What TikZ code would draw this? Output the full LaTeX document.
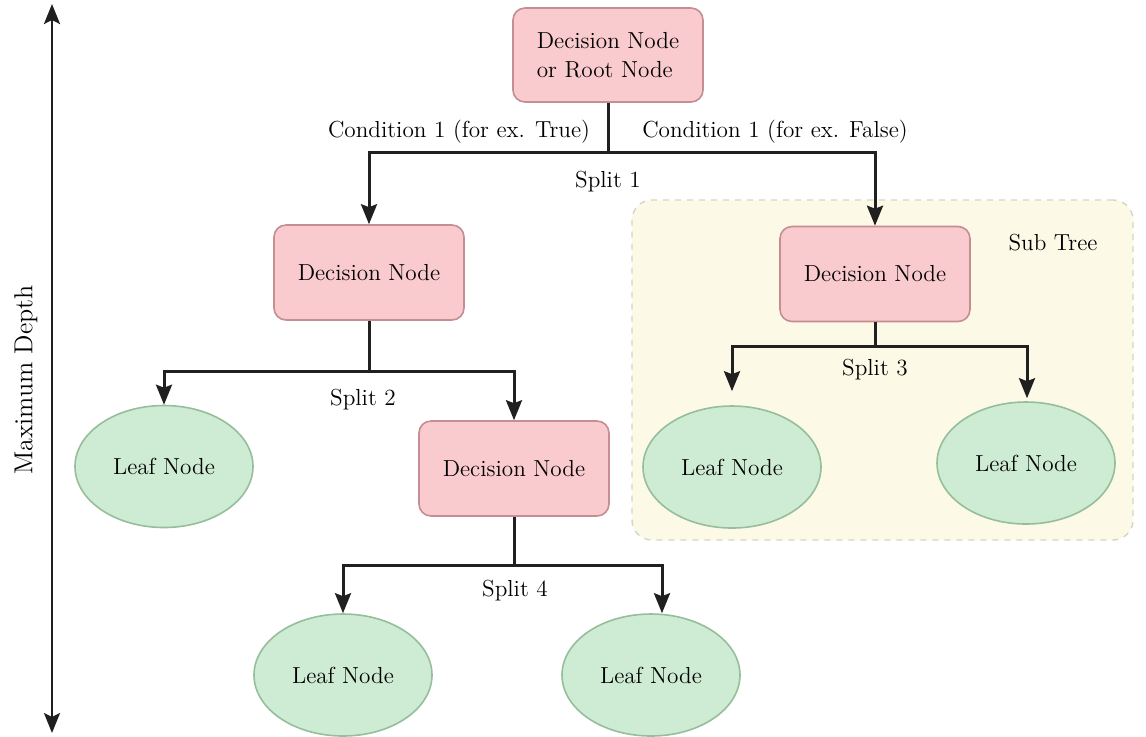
\documentclass[tikz,border=0pt]{standalone}
\usetikzlibrary{arrows.meta,shapes.geometric}
\definecolor{decfill}{RGB}{249,202,206}
\definecolor{decdraw}{RGB}{196,142,146}
\definecolor{leaffill}{RGB}{206,235,212}
\definecolor{leafdraw}{RGB}{150,190,155}
\definecolor{subfill}{RGB}{252,250,230}
\definecolor{subdraw}{RGB}{214,212,196}
\definecolor{linec}{RGB}{32,32,32}
\tikzset{
  txt/.style={font=\fontsize{11.6}{14.5}\selectfont, text=black},
  decnode/.style={txt, rectangle, rounded corners=6pt, draw=decdraw, fill=decfill, line width=0.8pt, minimum width=95pt, minimum height=47.5pt, align=center},
  leafnode/.style={txt, ellipse, draw=leafdraw, fill=leaffill, line width=0.8pt, minimum width=89pt, minimum height=61pt, inner sep=0pt},
  conn/.style={draw=linec, line width=1.5pt},
  arr/.style={conn, -{Stealth[length=10pt,width=8pt,inset=1.5pt]}},
  lbl/.style={txt, inner sep=1pt},
}
\begin{document}
\begin{tikzpicture}[x=0.5pt,y=-0.5pt]
\useasboundingbox (0,0) rectangle (1146,736);
\fill[white] (0,0) rectangle (1146,736);
% sub tree region
\node[draw=subdraw, fill=subfill, dashed, line width=0.7pt, rounded corners=10pt, minimum width=250.5pt, minimum height=170pt, inner sep=0pt] (sub) at (882.5,370) {};
\node[lbl] (subl) at (1053,243) {Sub Tree};
% nodes
\node[decnode, align=left, minimum width=95pt, minimum height=47pt] (root) at (608,55) {Decision Node\\or Root Node};
\node[decnode] (d1) at (369,272.5) {Decision Node};
\node[decnode] (d2) at (875,274) {Decision Node};
\node[decnode] (d3) at (514,468.5) {Decision Node};
\node[leafnode] (l1) at (164,466.5) {Leaf Node};
\node[leafnode] (l2) at (732,467) {Leaf Node};
\node[leafnode] (l3) at (1026,463) {Leaf Node};
\node[leafnode] (l4) at (343,675) {Leaf Node};
\node[leafnode] (l5) at (651,675) {Leaf Node};
% junctions
\coordinate (j1) at (608,152);
\coordinate (j2) at (369,371);
\coordinate (j3) at (875,346);
\coordinate (j4) at (514,565);
% connectors
\draw[conn] (root.south) -- (j1);
\draw[arr] (j1) -| (d1.north);
\draw[arr] (j1) -| (d2.north);
\draw[conn] (d1.south) -- (j2);
\draw[arr] (j2) -| (l1.north);
\draw[arr] (j2) -| (d3.north);
\draw[conn] (d2.south) -- (j3);
\draw[arr, shorten >=7pt] (j3) -| (l2.north);
\draw[arr, shorten >=1.5pt] (j3) -| ([xshift=0.5pt]l3.north);
\draw[conn] (d3.south) -- (j4);
\draw[arr] (j4) -| (l4.north);
\draw[arr] (j4) -| ([xshift=5.5pt]l5.north);
% labels
\node[lbl] (c1) at (459,132) {Condition 1 (for ex. True)};
\node[lbl] (c2) at (775,132) {Condition 1 (for ex. False)};
\node[lbl] (s1) at (608,182) {Split 1};
\node[lbl] (s2) at (363,400) {Split 2};
\node[lbl] (s3) at (875,370) {Split 3};
\node[lbl] (s4) at (515,591) {Split 4};
% maximum depth
\coordinate (mtop) at (52,4);
\coordinate (mbot) at (52,733);
\draw[conn, line width=1.3pt, {Stealth[length=10pt,width=8pt,inset=2pt]}-{Stealth[length=10pt,width=8pt,inset=2pt]}] (mtop) -- (mbot);
\node[txt, font=\fontsize{13}{15}\selectfont, rotate=90] (md) at (26,380) {Maximum Depth};
\end{tikzpicture}
\end{document}
